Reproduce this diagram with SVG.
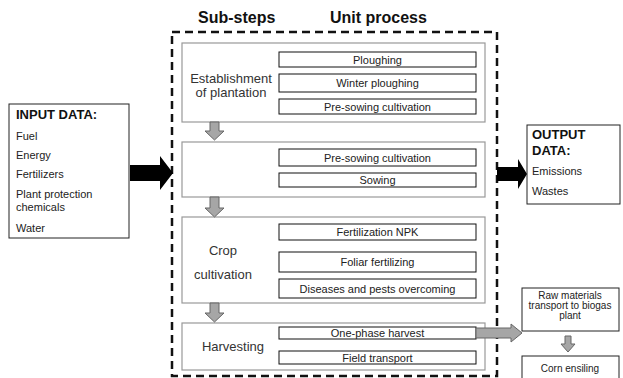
<svg xmlns="http://www.w3.org/2000/svg" width="623" height="378" viewBox="0 0 623 378">
<defs>
<style>
text{font-family:"Liberation Sans",Arial,sans-serif;fill:#222}
.hdr{font-size:16px;font-weight:bold;fill:#111}
.io{font-size:11px}
.iob{font-size:13px;font-weight:bold;fill:#111}
.stage{fill:#fff;stroke:#999;stroke-width:1.2}
.ub{fill:#fff;stroke:#111;stroke-width:1}
.ut{font-size:11px;text-anchor:middle}
.sl{font-size:13px;text-anchor:middle;fill:#333}
.box{fill:#fff;stroke:#222;stroke-width:1}
.garrow{fill:#a6a6a6;stroke:#666;stroke-width:1}
.barrow{fill:#000}
.sm{font-size:10px;text-anchor:middle}
</style>
</defs>
<rect width="623" height="378" fill="#fff"/>
<text class="hdr" x="198" y="23">Sub-steps</text>
<text class="hdr" x="330" y="23">Unit process</text>

<g id="input">
<rect class="box" x="9" y="104" width="120" height="134"/>
<text class="iob" x="16" y="119">INPUT DATA:</text>
<text class="io" x="16" y="140">Fuel</text>
<text class="io" x="16" y="159">Energy</text>
<text class="io" x="16" y="178">Fertilizers</text>
<text class="io" x="16" y="198">Plant protection</text>
<text class="io" x="16" y="211">chemicals</text>
<text class="io" x="16" y="232">Water</text>
</g>

<g id="unit-process">
<rect x="172" y="32" width="325" height="344" fill="none" stroke="#111" stroke-width="2.5" stroke-dasharray="8,5"/>
</g>

<g id="stage1">
<rect class="stage" x="182" y="43" width="303" height="79"/>
<text class="sl" x="231" y="83">Establishment</text>
<text class="sl" x="231" y="97">of plantation</text>
<rect class="ub" x="279" y="52" width="197" height="15"/>
<text class="ut" x="377.5" y="63.5">Ploughing</text>
<rect class="ub" x="279" y="74" width="197" height="18"/>
<text class="ut" x="377.5" y="87">Winter ploughing</text>
<rect class="ub" x="279" y="99" width="197" height="15"/>
<text class="ut" x="377.5" y="110.5">Pre-sowing cultivation</text>
</g>

<g id="stage2">
<rect class="stage" x="182" y="142" width="303" height="55"/>
<rect class="ub" x="279" y="149" width="197" height="17"/>
<text class="ut" x="377.5" y="161.5">Pre-sowing cultivation</text>
<rect class="ub" x="279" y="173" width="197" height="14"/>
<text class="ut" x="377.5" y="184">Sowing</text>
</g>

<g id="stage3">
<rect class="stage" x="182" y="217" width="303" height="86"/>
<text class="sl" x="223" y="255">Crop</text>
<text class="sl" x="223" y="279">cultivation</text>
<rect class="ub" x="279" y="224" width="197" height="16"/>
<text class="ut" x="377.5" y="236">Fertilization NPK</text>
<rect class="ub" x="279" y="252" width="197" height="20"/>
<text class="ut" x="377.5" y="266">Foliar fertilizing</text>
<rect class="ub" x="279" y="279" width="197" height="19"/>
<text class="ut" x="377.5" y="292.5">Diseases and pests overcoming</text>
</g>

<g id="stage4">
<rect class="stage" x="182" y="323" width="303" height="47"/>
<text class="sl" x="233" y="351">Harvesting</text>
<rect class="ub" x="279" y="327" width="197" height="12"/>
<text class="ut" x="377.5" y="337">One-phase harvest</text>
<rect class="ub" x="279" y="351" width="197" height="13"/>
<text class="ut" x="377.5" y="361.5">Field transport</text>
</g>

<g id="output">
<rect class="box" x="527" y="125" width="93" height="79"/>
<text class="iob" x="532" y="139">OUTPUT</text>
<text class="iob" x="532" y="155">DATA:</text>
<text class="io" x="532" y="175">Emissions</text>
<text class="io" x="532" y="195">Wastes</text>
</g>

<g id="raw-transport">
<rect class="box" x="522" y="288" width="97" height="43"/>
<text class="sm" x="570" y="299">Raw materials</text>
<text class="sm" x="570" y="309">transport to biogas</text>
<text class="sm" x="570" y="319">plant</text>
</g>

<g id="corn-ensiling">
<rect class="box" x="522" y="356" width="97" height="30"/>
<text class="sm" x="570" y="372">Corn ensiling</text>
</g>

<g id="connectors">
<polygon class="barrow" points="130,165 160,165 160,156 173,173 160,190 160,181 130,181"/>
<polygon class="barrow" points="497,167 518,167 518,159 527,174 518,189 518,181 497,181"/>
<polygon class="garrow" points="210,122 219,122 219,131 224,131 214.5,140 205,131 210,131"/>
<polygon class="garrow" points="210,197 219,197 219,208 224,208 214.5,217 205,208 210,208"/>
<polygon class="garrow" points="210,303 219,303 219,313 224,313 214.5,322 205,313 210,313"/>
<polygon class="garrow" points="476,328 511,328 511,324 522,333 511,342 511,338 476,338"/>
<polygon class="garrow" points="565,336 571,336 571,344 575,344 568,352 561,344 565,344"/>
</g>
</svg>
